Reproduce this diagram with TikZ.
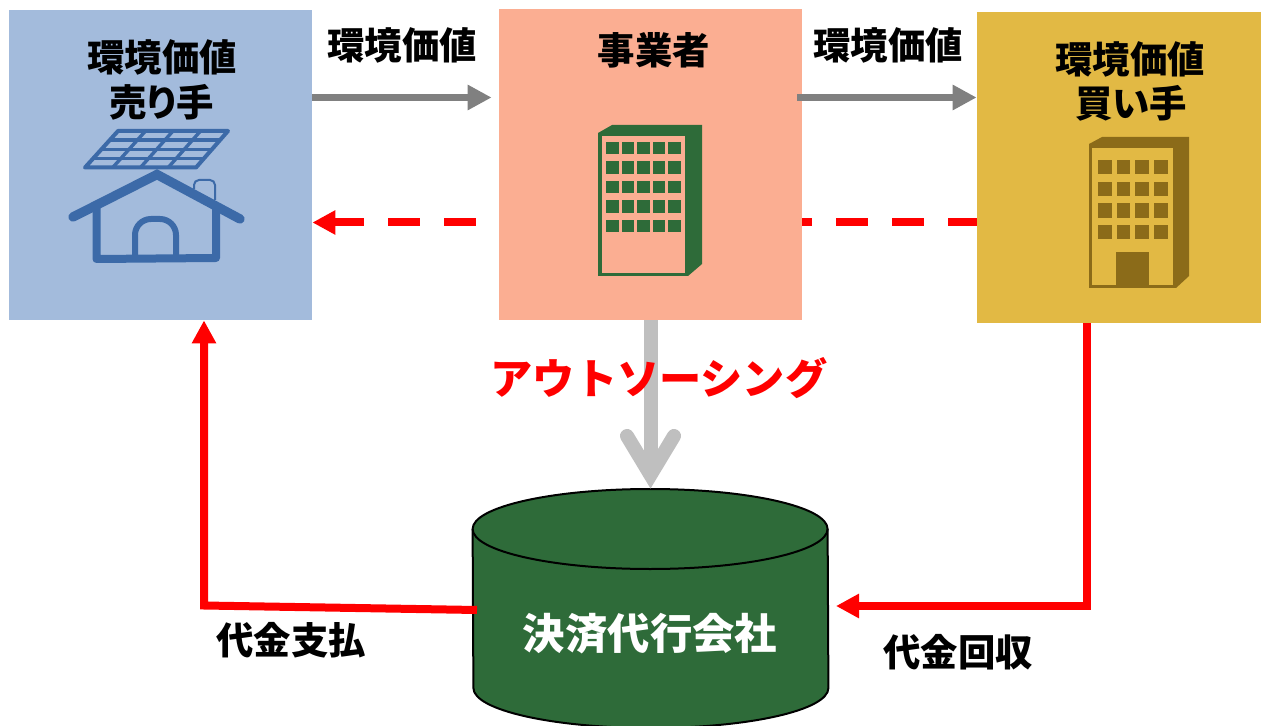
\documentclass[tikz,border=0pt]{standalone}
\usepackage{fontspec}
\setmainfont{Noto Sans CJK JP}
\usepackage{tikz}
\usetikzlibrary{arrows.meta,backgrounds,calc}
\definecolor{sellerblue}{HTML}{A3BBDC}
\definecolor{housedark}{HTML}{3C6AA8}
\definecolor{salmon}{HTML}{FBAE92}
\definecolor{gold}{HTML}{E2B944}
\definecolor{golddark}{HTML}{8B6B19}
\definecolor{forest}{HTML}{2E6B39}
\tikzset{
  partybox/.style={minimum width=#1,minimum height=155.5pt,inner sep=0pt},
  jplabel/.style={font=\bfseries\fontsize{18.7}{22}\selectfont,inner sep=0pt},
  valueflow/.style={draw=gray,line width=3.5pt,-{Triangle[length=12pt,width=12pt]}},
  moneyflow/.style={draw=red,line width=4pt,-{Triangle[length=11.5pt,width=11.5pt]}},
  promiseflow/.style={moneyflow,dash pattern=on 16pt off 12pt,dash phase=1.5pt},
  drumline/.style={draw=black,line width=1pt},
}
\begin{document}
\begin{tikzpicture}[x=0.5pt,y=-0.5pt]
  \useasboundingbox (0,0) rectangle (1261,726);
  \clip (0,0) rectangle (1261,726);
  % parties
  \node [partybox=151.5pt,minimum height=155pt,fill=sellerblue] (seller) at (160.5,165) {};
  \node [partybox=151.5pt,fill=salmon] (operator) at (650.5,164.5) {};
  \node [partybox=142pt,fill=gold] (buyer) at (1119,167.5) {};
  % drum
  \node [minimum width=177.5pt,minimum height=120pt,inner sep=0pt] (agent) at (650.5,609) {};
  \coordinate (drumtop) at (0,529);
  \coordinate (drumfoot) at (0,688);
  \draw [drumline,fill=forest] (agent.west |- drumtop) arc (180:0:88.75pt and 20pt)
    -- (agent.east |- drumfoot) arc (0:-180:88.75pt and 20pt) -- cycle;
  \draw [drumline] (agent.west |- drumtop) arc (180:360:88.75pt and 20pt);
  % house
  \coordinate (pa) at (85,167.5);
  \coordinate (pb) at (118,131);
  \coordinate (pc) at (228,131);
  \coordinate (pd) at (196,167.5);
  \draw [housedark,line width=2pt,line join=round] (pa) -- (pb) -- (pc) -- (pd) -- cycle;
  \foreach \i in {1,2,3} {
    \draw [housedark,line width=1.7pt] ($(pa)!\i/4!(pb)$) -- ($(pd)!\i/4!(pc)$);
    \draw [housedark,line width=1.7pt] ($(pa)!\i/4!(pd)$) -- ($(pb)!\i/4!(pc)$);
  }
  \draw [housedark,line width=1pt,rounded corners=2.5pt] (194,189) -- (194,180) -- (215,180) -- (215,200);
  \draw [housedark,line width=4.7pt,line cap=round,line join=miter] (73,217) -- (157,174.5) -- (240,219);
  \draw [housedark,line width=4pt,line join=round] (96.5,208) -- (96.5,259) -- (216,258) -- (216,208);
  \draw [housedark,line width=3pt,rounded corners=8pt] (135,256) -- (135,219) -- (176,219) -- (176,256);
  % operator building
  \fill [forest] (598,276) -- (598,133) -- (612,125) -- (702,125) -- (702,264) -- (688,276) -- cycle;
  \fill [salmon] (602,136) rectangle (685,273);
  \foreach \col in {0,...,4}
    \foreach \row in {0,...,4}
      \fill [forest] ({606+15.6*\col},{142+19.5*\row}) rectangle ++(12.5,12.5);
  % buyer building
  \fill [golddark] (1089,288) -- (1089,144) -- (1102,137) -- (1189,137) -- (1189,276) -- (1176,288) -- cycle;
  \fill [gold] (1092,148) rectangle (1173,285);
  \foreach \col in {0,...,3}
    \foreach \row in {0,...,3}
      \fill [golddark] ({1098+18.7*\col},{160+21.6*\row}) rectangle ++(13.5,14.5);
  \fill [golddark] (1116,252) rectangle (1149,285);
  % flows
  \coordinate (valuelevel) at (0,97.5);
  \coordinate (promiselevel) at (0,222.5);
  \coordinate (sellerturn) at (204,605.5);
  \coordinate (buyerturn) at (1087,606);
  \coordinate (agentpay) at (477,610);
  \coordinate (agentget) at (836,606);
  \coordinate (wingleft) at (627,436);
  \coordinate (wingright) at (674,436);
  \coordinate (wingtip) at (650.5,475);
  \draw [valueflow,shorten >=3.5pt] (seller.east |- valuelevel) -- (operator.west |- valuelevel);
  \draw [valueflow,shorten <=-2.5pt] (operator.east |- valuelevel) -- (buyer.west |- valuelevel);
  \begin{scope}[on background layer]
    \draw [promiseflow] (buyer.west |- promiselevel) -- (seller.east |- promiselevel);
  \end{scope}
  \draw [moneyflow] (buyer.south -| buyerturn) -- (buyerturn) -- (agentget);
  \draw [moneyflow] (agentpay) -- (sellerturn) -- (seller.south -| sellerturn);
  \draw [draw=black!25,line width=7pt] (operator.south) -- (wingtip);
  \draw [draw=black!25,line width=7pt,line cap=round,line join=miter] (wingleft) -- (wingtip) -- (wingright);
  % labels
  \node [jplabel] (sellerlabela) at (162,57) {環境価値};
  \node [jplabel] (sellerlabelb) at (162,102) {\addfontfeature{RawFeature=+palt}売り手};
  \node [jplabel] (operatorlabel) at (654,50) {事業者};
  \node [jplabel] (buyerlabela) at (1130,59) {環境価値};
  \node [jplabel] (buyerlabelb) at (1131,103) {\addfontfeature{RawFeature=+palt}買い手};
  \node [jplabel] (valuelabela) at (402,45) {環境価値};
  \node [jplabel] (valuelabelb) at (888,45) {環境価値};
  \node [jplabel,text=red,font=\bfseries\fontsize{21.1}{24}\selectfont] (outsourcelabel) at (659,378) {アウトソーシング};
  \node [jplabel,text=white,font=\bfseries\fontsize{21.2}{25}\selectfont] (agentlabel) at (650,634) {決済代行会社};
  \node [jplabel] (paylabel) at (291,640) {代金支払};
  \node [jplabel] (collectlabel) at (958,652) {代金回収};
\end{tikzpicture}
\end{document}
